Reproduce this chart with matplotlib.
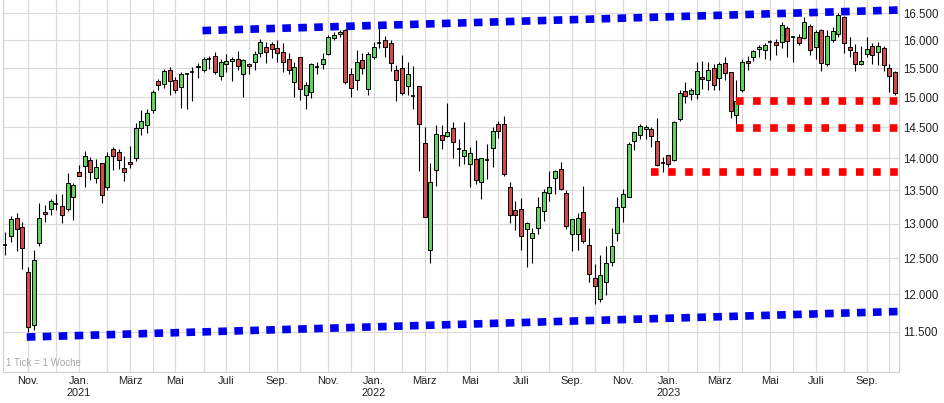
import matplotlib
matplotlib.use("Agg")
import matplotlib.pyplot as plt
import numpy as np
import pandas as pd

plt.rcParams["font.family"] = ["Liberation Sans", "DejaVu Sans"]
plt.rcParams["lines.scale_dashes"] = False

# weekly candles, dated by the Sunday that ends each week
first_week = "2020-10-04"

opens = [
    12685, 12815, 13085, 12950, 12300, 11590, 12710, 13175, 13215, 13285,
    13255, 13215, 13395, 13775, 13880, 13970, 13695, 13930, 13550, 14145,
    14105, 13850, 13945, 14005, 14490, 14540, 14790, 15275, 15235, 15480,
    15295, 15175, 15410, 15435, 15550, 15480, 15670, 15725, 15370, 15570,
    15630, 15660, 15410, 15570, 15615, 15770, 15880, 15935, 15860, 15800,
    15675, 15255, 15695, 15045, 15090, 15530, 15575, 15750, 16045, 16115,
    16195, 15410, 15305, 15650, 15150, 15695, 15950, 16000, 15955, 15480,
    15500, 15195, 15030, 15190, 14250, 12620, 13820, 14375, 14355, 14490,
    14150, 14030, 13905, 13990, 13620, 13975, 14165, 14555, 14555, 13550,
    13195, 13215, 12915, 12790, 12935, 13180, 13465, 13695, 13835, 13460,
    12840, 12840, 13170, 12685, 12225, 11935, 12170, 12450, 12865, 13245,
    13395, 14280, 14375, 14465, 14475, 14275, 13930, 14045, 13965, 14630,
    15105, 15060, 15060, 15350, 15305, 15510, 15340, 15590, 15430, 14705,
    15120, 15640, 15695, 15845, 15835, 15965, 15980, 15965, 16225, 16055,
    16070, 16045, 16270, 15880, 16185, 15575, 16000, 16115, 16425, 15880,
    15800, 15570, 15760, 15895, 15785, 15860, 15500, 15440,
]
highs = [
    12880, 13110, 13155, 13025, 12380, 12610, 13300, 13270, 13370, 13440,
    13450, 13760, 13615, 13890, 14115, 14025, 13990, 13930, 14095, 14175,
    14145, 14040, 14190, 14575, 14790, 14805, 15120, 15315, 15490, 15525,
    15350, 15440, 15420, 15530, 15600, 15705, 15725, 15795, 15660, 15760,
    15705, 15805, 15675, 15590, 15810, 16030, 15965, 15980, 16015, 15955,
    15765, 15615, 15695, 15255, 15600, 15615, 15765, 16105, 16145, 16195,
    16210, 15500, 15825, 15780, 15795, 15980, 16225, 16085, 16000, 15560,
    15735, 15615, 15540, 15190, 14500, 13930, 14540, 14530, 14910, 14595,
    14315, 14595, 14175, 14300, 14010, 14220, 14510, 14600, 14690, 13625,
    13330, 13385, 13020, 12940, 13395, 13525, 13800, 13820, 13940, 13500,
    13060, 13155, 13560, 12935, 12420, 12540, 12670, 12935, 13395, 13525,
    14260, 14430, 14555, 14545, 14510, 14655, 14015, 14055, 14600, 15120,
    15265, 15165, 15615, 15635, 15615, 15575, 15615, 15705, 15440, 15295,
    15660, 15715, 15835, 15925, 15955, 16015, 16025, 16335, 16270, 16090,
    16115, 16425, 16305, 16195, 16210, 16195, 16240, 16500, 16450, 16060,
    15940, 15895, 16055, 15955, 15980, 15895, 15575, 15460,
]
lows = [
    12540, 12730, 12595, 12345, 11500, 11520, 12670, 13030, 13120, 13195,
    13010, 13180, 13050, 13715, 13550, 13665, 13615, 13305, 13500, 13810,
    13830, 13640, 13850, 13955, 14380, 14405, 14735, 15130, 15165, 15040,
    15070, 14825, 14795, 14940, 15335, 15440, 15495, 15400, 15305, 15440,
    15275, 15470, 15010, 15400, 15470, 15695, 15600, 15690, 15605, 15440,
    15410, 15000, 14960, 14795, 14990, 15395, 15490, 15735, 16015, 16060,
    15235, 15000, 15130, 15400, 15045, 15675, 15860, 15705, 15460, 14935,
    15040, 15045, 14805, 13800, 13090, 12430, 13565, 14150, 14340, 14000,
    13875, 13905, 13550, 13590, 13370, 13680, 13860, 14330, 13720, 13010,
    12905, 12610, 12380, 12430, 12840, 13035, 13330, 13450, 13500, 12925,
    12595, 12610, 12720, 12165, 11860, 11890, 11990, 12390, 12740, 13020,
    13395, 14125, 14315, 14315, 14175, 13870, 13785, 13860, 13950, 14610,
    14900, 14960, 14970, 15150, 15120, 15130, 15130, 15305, 14655, 14555,
    15090, 15470, 15640, 15695, 15665, 15650, 15740, 15860, 15705, 15615,
    15925, 16025, 15740, 15675, 15450, 15545, 15980, 16070, 15765, 15695,
    15460, 15555, 15695, 15575, 15565, 15460, 15100, 15045,
]
closes = [
    12685, 13060, 12915, 12645, 11565, 12475, 13085, 13137, 13340, 13285,
    13120, 13615, 13575, 13720, 14040, 13775, 13860, 13430, 14040, 14040,
    13975, 13775, 13915, 14490, 14610, 14740, 15100, 15220, 15450, 15275,
    15130, 15400, 15410, 15435, 15520, 15675, 15670, 15440, 15605, 15640,
    15675, 15540, 15650, 15540, 15750, 15970, 15800, 15845, 15770, 15605,
    15470, 15520, 15150, 15205, 15570, 15530, 15675, 16060, 16105, 16155,
    15255, 15165, 15615, 15510, 15750, 15880, 15950, 15880, 15590, 15305,
    15070, 15410, 15030, 14555, 13100, 13620, 14395, 14295, 14420, 14260,
    14150, 14135, 14085, 13665, 14005, 13975, 14435, 14445, 13750, 13130,
    13120, 12825, 13010, 12865, 13245, 13475, 13550, 13795, 13525, 12960,
    13060, 13085, 12750, 12275, 12105, 12260, 12430, 12680, 13245, 13450,
    14220, 14430, 14515, 14510, 14365, 13885, 13930, 13915, 14585, 15075,
    15020, 15130, 15460, 15310, 15470, 15205, 15570, 15425, 14770, 14945,
    15615, 15595, 15805, 15880, 15925, 15965, 15925, 16285, 15985, 16055,
    15955, 16345, 15830, 16155, 15590, 16090, 16165, 16470, 15955, 15820,
    15575, 15630, 15845, 15740, 15895, 15565, 15370, 15075,
]

# trend channel (week index, price) and horizontal supports
upper_trend_x = [34.8, 157.0]
upper_trend_y = [16180, 16560]
lower_trend_x = [3.8, 157.0]
lower_trend_y = [11430, 11765]
support_levels = [14945, 14485, 13780]
support_start = [129.0, 129.0, 113.9]

y_ticks = [11500, 12000, 12500, 13000, 13500, 14000, 14500, 15000, 15500, 16000, 16500]
month_labels = {1: "Jan.", 3: "März", 5: "Mai", 7: "Juli", 9: "Sep.", 11: "Nov."}

GREEN = "#5ed35e"
RED = "#d24a47"
GRID = "#dadada"


def trend_to(xs, ys, x_end):
    k = (np.log(ys[1]) - np.log(ys[0])) / (xs[1] - xs[0])
    return [xs[0], x_end], [ys[0], float(np.exp(np.log(ys[0]) + k * (x_end - xs[0])))]


def main() -> None:
    o = np.array(opens, dtype=float)
    h = np.array(highs, dtype=float)
    l = np.array(lows, dtype=float)
    c = np.array(closes, dtype=float)
    n = len(o)
    idx = np.arange(n)
    dates = pd.date_range(first_week, periods=n, freq="W-SUN")

    fig = plt.figure(figsize=(9.44, 4.03), dpi=100)
    ax = fig.add_axes([2.7 / 944, 31 / 403, (899 - 2.7) / 944, 372 / 403])
    ax.set_yscale("log")
    ax.set_xlim(-0.45, 157.7)
    ax.set_ylim(10986, 16751)

    # grid: price levels and first week of each month
    for v in y_ticks:
        ax.axhline(v, color=GRID, lw=0.8, zorder=0)
    month_pos = [i for i in range(1, n) if dates[i].month != dates[i - 1].month]
    for i in month_pos:
        ax.axvline(i, color=GRID, lw=0.8, zorder=0)

    # candles
    ax.vlines(idx, l, h, color="black", lw=0.8, zorder=2)
    doji = o == c
    up = (c > o) & ~doji
    down = (c < o) & ~doji
    w = 0.72
    ax.bar(idx[up], (c - o)[up], bottom=o[up], width=w, color=GREEN, edgecolor="black", lw=0.7, zorder=3)
    ax.bar(idx[down], (o - c)[down], bottom=c[down], width=w, color=RED, edgecolor="black", lw=0.7, zorder=3)
    ax.hlines(c[doji], idx[doji] - w / 2, idx[doji] + w / 2, color="black", lw=1.2, zorder=3)

    # trend channel
    for xs, ys in ((upper_trend_x, upper_trend_y), (lower_trend_x, lower_trend_y)):
        lx, ly = trend_to(xs, ys, 160)
        ax.plot(lx, ly, color="#0000ee", lw=5.5, dashes=(6.2, 5.3), dash_capstyle="butt", zorder=4)

    for lvl, start in zip(support_levels, support_start):
        ax.plot([start, 160], [lvl, lvl], color="#ff0000", lw=5.5, dashes=(5.5, 6.8), dash_capstyle="butt", zorder=4)

    # axes styling
    ax.spines["top"].set_visible(False)
    for side in ("left", "right", "bottom"):
        ax.spines[side].set_color("#cfcfcf")
        ax.spines[side].set_linewidth(0.8)

    ax.yaxis.tick_right()
    ax.yaxis.set_minor_locator(matplotlib.ticker.NullLocator())
    ax.set_yticks(y_ticks)
    ax.set_yticklabels([f"{v:,}".replace(",", ".") for v in y_ticks])
    ax.tick_params(axis="y", length=0, pad=3, labelsize=8.3, colors="#222222")

    tick_pos, tick_txt = [], []
    for i in month_pos:
        m = dates[i].month
        if m in month_labels:
            txt = month_labels[m]
            if m == 1:
                txt += "\n" + str(dates[i].year)
            tick_pos.append(i)
            tick_txt.append(txt)
    ax.set_xticks(tick_pos)
    ax.set_xticklabels(tick_txt, linespacing=1.25)
    ax.tick_params(axis="x", length=0, pad=3, labelsize=7.9, colors="#222222")

    ax.text(0.004, 0.012, "1 Tick = 1 Woche", transform=ax.transAxes, fontsize=7,
            color="#a8a8a8", ha="left", va="bottom")

    fig.savefig("out.png", dpi=100)
    plt.close(fig)


if __name__ == "__main__":
    main()
